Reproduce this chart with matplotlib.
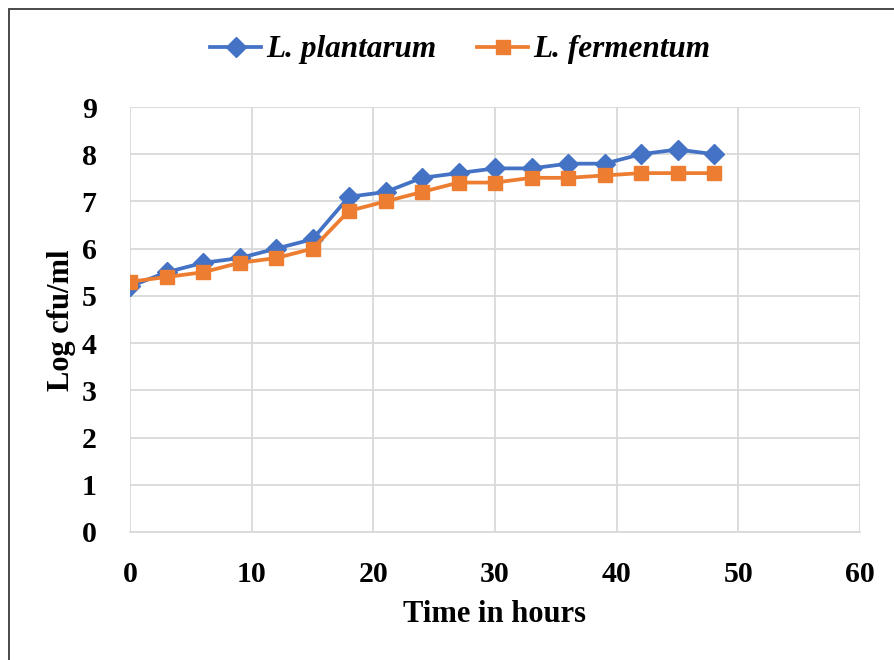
import matplotlib
matplotlib.use("Agg")
import matplotlib.pyplot as plt
from matplotlib.patches import Rectangle

# Viable counts (log cfu/ml) sampled every 3 hours
hours = [0, 3, 6, 9, 12, 15, 18, 21, 24, 27, 30, 33, 36, 39, 42, 45, 48]
plantarum = [5.2, 5.5, 5.7, 5.8, 6.0, 6.2, 7.1, 7.2, 7.5, 7.6, 7.7, 7.7, 7.8, 7.8, 8.0, 8.1, 8.0]
fermentum = [5.3, 5.4, 5.5, 5.7, 5.8, 6.0, 6.8, 7.0, 7.2, 7.4, 7.4, 7.5, 7.5, 7.55, 7.6, 7.6, 7.6]
series_names = ["L. plantarum", "L. fermentum"]
x_ticks = [0, 10, 20, 30, 40, 50, 60]
y_ticks = [0, 1, 2, 3, 4, 5, 6, 7, 8, 9]

plt.rcParams["font.family"] = ["Liberation Serif", "DejaVu Serif"]
plt.rcParams["font.weight"] = "bold"

W, H = 895, 660
fig = plt.figure(figsize=(W / 100, H / 100), dpi=100)
fig.patch.set_facecolor("white")

# outer frame
fig.add_artist(Rectangle((9 / W, -0.1), 1.2, 1 - 9 / H + 0.1,
                         transform=fig.transFigure, fill=False,
                         edgecolor="#3a3a3a", linewidth=1.3))

ax = fig.add_axes([130 / W, 1 - 532 / H, 730 / W, 425 / H])

grid_color = "#d9d9d9"
ax.plot(hours, plantarum, color="#4472C4", linewidth=2.7, marker="D",
        markersize=10, label=series_names[0], zorder=3)
ax.plot(hours, fermentum, color="#ED7D31", linewidth=2.7, marker="s",
        markersize=10.5, label=series_names[1], zorder=4)

ax.set_xlim(0, 60)
ax.set_ylim(0, 9)
ax.set_xticks(x_ticks)
ax.set_yticks(y_ticks)
ax.grid(True, color=grid_color, linewidth=1.3)
ax.set_axisbelow(True)
for side in ["top", "right", "left"]:
    ax.spines[side].set_visible(False)
ax.spines["bottom"].set_color(grid_color)
ax.spines["bottom"].set_linewidth(1.3)
ax.tick_params(axis="both", length=0, labelsize=21.5)
ax.tick_params(axis="x", pad=21)
ax.tick_params(axis="y", pad=24)
for lbl in ax.get_xticklabels() + ax.get_yticklabels():
    lbl.set_fontweight("bold")

fig.text(495 / W, 1 - 615 / H, "Time in hours", ha="center", va="center",
         fontsize=22, fontweight="bold")
fig.text(62 / W, 1 - 320 / H, "Log cfu/ml", ha="center", va="center",
         rotation=90, fontsize=22, fontweight="bold")

handles, labels = ax.get_legend_handles_labels()
fig.legend(handles, labels, loc="center", bbox_to_anchor=(460 / W, 1 - 50 / H),
           ncol=2, frameon=False, handlelength=1.65, handletextpad=0.15,
           columnspacing=1.3,
           prop={"family": "Liberation Serif", "weight": "bold",
                 "style": "italic", "size": 22.5})

fig.savefig("out.png", dpi=100)
